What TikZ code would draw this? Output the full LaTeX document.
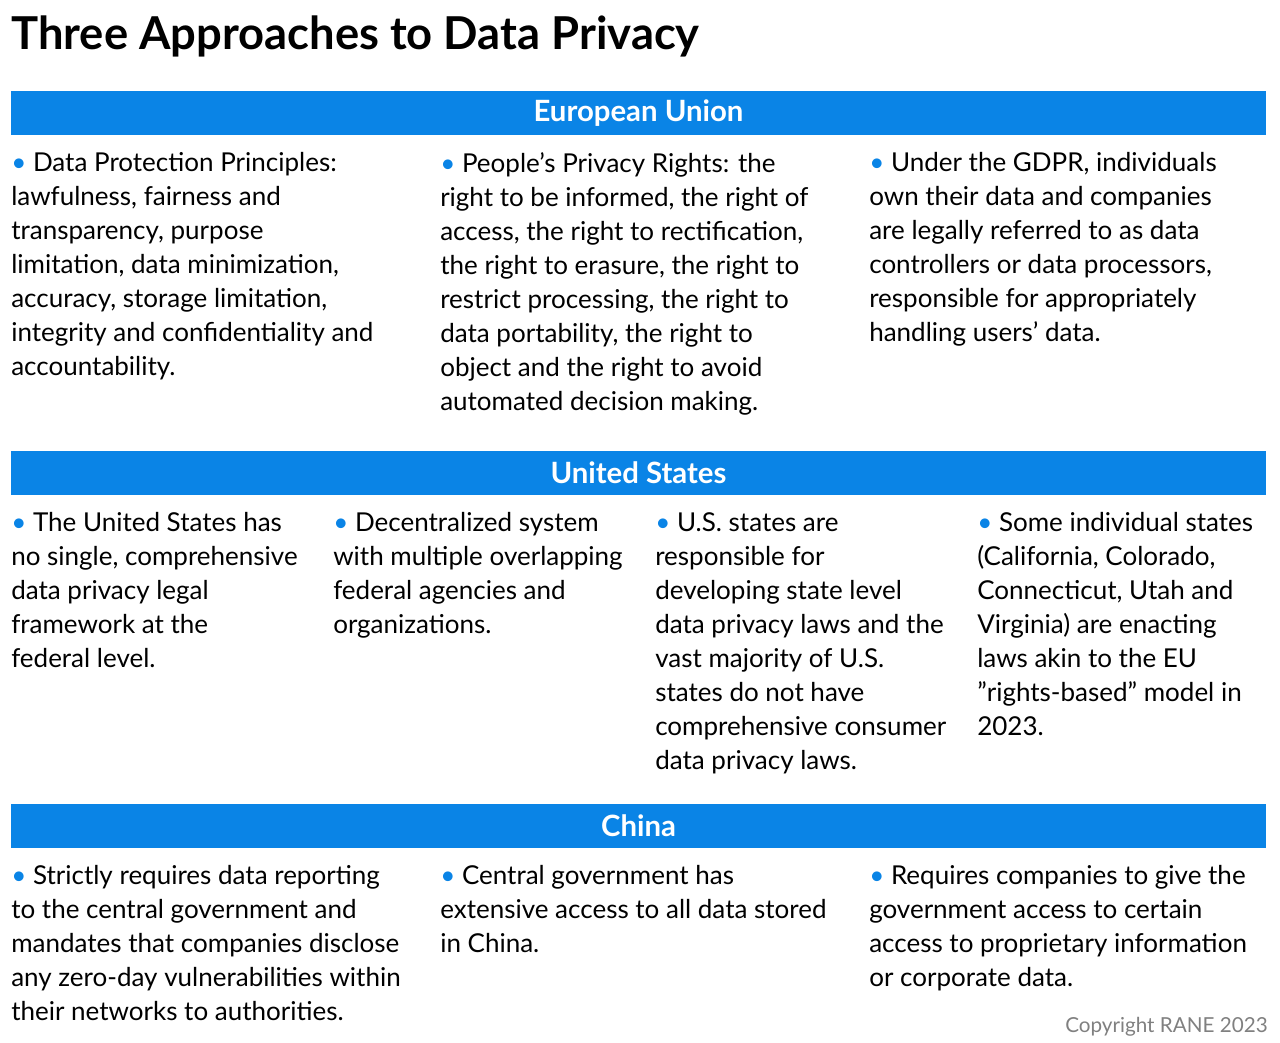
\documentclass[tikz,border=0pt]{standalone}
\usepackage{fontspec}
\setmainfont{Lato}
\definecolor{barblue}{HTML}{0A84E6}
\newcommand{\bul}{{\color{barblue}•}}
\begin{document}
\begin{tikzpicture}[x=0.75pt,y=-0.75pt,
  bar/.style={fill=barblue,draw=none},
  head/.style={text=white,font=\fontsize{22}{26}\selectfont\bfseries},
  body/.style={anchor=north west,inner sep=0pt,align=left,font=\fontsize{19.5}{25.5}\selectfont}]
\useasboundingbox (0,0) rectangle (1280,1042);
\node[anchor=base west,inner sep=0pt,font=\fontsize{34}{40}\selectfont\bfseries] (title) at (11,49) {Three Approaches to Data Privacy};
% EU
\fill[bar] (11,91) rectangle (1266,135);
\node[head] (eu) at (638.5,113) {European Union};
\node[body] (eu1) at (11,152) {\bul\ Data Protection Principles:\\lawfulness, fairness and\\transparency, purpose\\limitation, data minimization,\\accuracy, storage limitation,\\integrity and confidentiality and\\accountability.};
\node[body] (eu2) at (440,152) {\bul\ People's Privacy Rights: the\\right to be informed, the right of\\access, the right to rectification,\\the right to erasure, the right to\\restrict processing, the right to\\data portability, the right to\\object and the right to avoid\\automated decision making.};
\node[body] (eu3) at (869,152) {\bul\ Under the GDPR, individuals\\own their data and companies\\are legally referred to as data\\controllers or data processors,\\responsible for appropriately\\handling users' data.};
% US
\fill[bar] (11,451) rectangle (1266,495);
\node[head] (us) at (638.5,473) {United States};
\node[body] (us1) at (11,512) {\bul\ The United States has\\no single, comprehensive\\data privacy legal\\framework at the\\federal level.};
\node[body] (us2) at (333,512) {\bul\ Decentralized system\\with multiple overlapping\\federal agencies and\\organizations.};
\node[body] (us3) at (655,512) {\bul\ U.S. states are\\responsible for\\developing state level\\data privacy laws and the\\vast majority of U.S.\\states do not have\\comprehensive consumer\\data privacy laws.};
\node[body] (us4) at (977,512) {\bul\ Some individual states\\(California, Colorado,\\Connecticut, Utah and\\Virginia) are enacting\\laws akin to the EU\\"rights-based" model in\\2023.};
% China
\fill[bar] (11,804) rectangle (1266,848);
\node[head] (cn) at (638.5,826) {China};
\node[body] (cn1) at (11,865) {\bul\ Strictly requires data reporting\\to the central government and\\mandates that companies disclose\\any zero-day vulnerabilities within\\their networks to authorities.};
\node[body] (cn2) at (440,865) {\bul\ Central government has\\extensive access to all data stored\\in China.};
\node[body] (cn3) at (869,865) {\bul\ Requires companies to give the\\government access to certain\\access to proprietary information\\or corporate data.};
\node[anchor=base east,inner sep=0pt,text=gray,font=\fontsize{15.5}{18}\selectfont] (copy) at (1268,1032) {Copyright RANE 2023};
\end{tikzpicture}
\end{document}
